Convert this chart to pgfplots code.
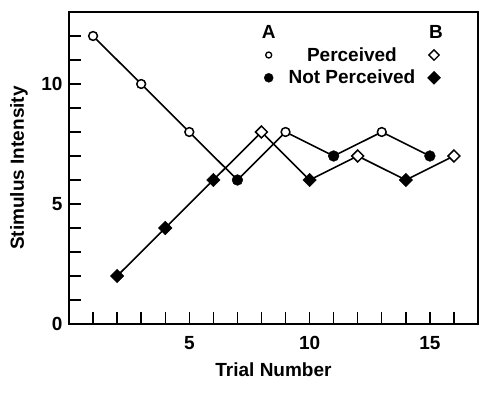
\documentclass[border=0pt]{standalone}
\usepackage{fontspec}
\setmainfont{Liberation Sans}
\usepackage{pgfplots}
\pgfplotsset{compat=1.18}
\newcommand\ff{\fontsize{19}{22}\selectfont\bfseries}
\begin{document}
\begin{tikzpicture}
\begin{axis}[
  name=ax,
  scale only axis,
  width=409pt, height=312pt,
  xmin=0, xmax=17, ymin=0, ymax=13,
  axis line style={line width=1.5pt},
  xtick={5,10,15}, minor xtick={1,...,16},
  ytick={0,5,10}, minor ytick={1,...,12},
  tick align=inside, tick pos=left,
  major tick length=12pt, minor tick length=12pt,
  tick style={black, line width=1.4pt},
  /pgf/number format/assume math mode=true,
  tick label style={font=\ff},
  xticklabel style={yshift=-9pt},
  yticklabel style={xshift=-3pt},
  xlabel={Trial Number},
  ylabel={Stimulus Intensity},
  every axis x label/.style={at={([yshift=-46pt]axis description cs:0.5,0)}, anchor=center, font=\ff},
  every axis y label/.style={at={([xshift=-50pt]axis description cs:0,0.5)}, anchor=center, rotate=90, font=\ff},
  legend columns=3,
  legend style={at={(axis cs:7.8,12.62)}, anchor=north west, draw=none, fill=none, font=\ff, column sep=0pt, row sep=3.5pt},
  legend cell align=center,
]
\addplot[black, line width=1.6pt, forget plot] coordinates {(1,12)(3,10)(5,8)(7,6)(9,8)(11,7)(13,8)(15,7)};
\addplot[black, line width=1.6pt, forget plot] coordinates {(2,2)(4,4)(6,6)(8,8)(10,6)(12,7)(14,6)(16,7)};
\addplot[only marks, mark=*, mark size=4.4pt, mark options={fill=white, draw=black, line width=1.5pt}, forget plot] coordinates {(1,12)(3,10)(5,8)(9,8)(13,8)};
\addplot[only marks, mark=*, mark size=5.4pt, black, forget plot] coordinates {(7,6)(11,7)(15,7)};
\addplot[only marks, mark=square*, mark size=4.2pt, mark options={rotate=45, fill=white, draw=black, line width=1.5pt}, forget plot] coordinates {(8,8)(12,7)(16,7)};
\addplot[only marks, mark=square*, mark size=4.8pt, mark options={rotate=45, fill=black}, black, forget plot] coordinates {(2,2)(4,4)(6,6)(10,6)(14,6)};

\addlegendimage{legend image code/.code={\path (0,0) (0.6cm,0); \node[font=\ff] at (0.3cm,0) {A};}}
\addlegendentry{\null}
\addlegendimage{empty legend}
\addlegendentry{\null}
\addlegendimage{legend image code/.code={\path (0,0) (0.6cm+10pt,0); \node[font=\ff] at (0.3cm+10pt,0) {B};}}
\addlegendentry{\null}
\addlegendimage{legend image code/.code={\path (0,0) (0.6cm,0); \draw[black, fill=white, line width=1.3pt] (0.3cm,0) circle[radius=3pt];}}
\addlegendentry{\null}
\addlegendimage{empty legend}
\addlegendentry{\hspace{5pt}Perceived\hspace{5pt}}
\addlegendimage{legend image code/.code={\path (0,0) (0.6cm+10pt,0); \draw[black, fill=white, line width=1.4pt] (0.3cm+8pt,5.2pt) -- (0.3cm+13.2pt,0) -- (0.3cm+8pt,-5.2pt) -- (0.3cm+2.8pt,0) -- cycle;}}
\addlegendentry{\null}
\addlegendimage{legend image code/.code={\path (0,0) (0.6cm,0); \fill[black] (0.3cm,0) circle[radius=4.5pt];}}
\addlegendentry{\null}
\addlegendimage{empty legend}
\addlegendentry{\hspace{5pt}Not Perceived\hspace{5pt}}
\addlegendimage{legend image code/.code={\path (0,0) (0.6cm+10pt,0); \fill[black] (0.3cm+8pt,6.5pt) -- (0.3cm+14.5pt,0) -- (0.3cm+8pt,-6.5pt) -- (0.3cm+1.5pt,0) -- cycle;}}
\addlegendentry{\null}
\end{axis}
\path (ax.south west) +(-69pt,-71pt) (ax.north east) +(17pt,12pt);
\end{tikzpicture}
\end{document}
